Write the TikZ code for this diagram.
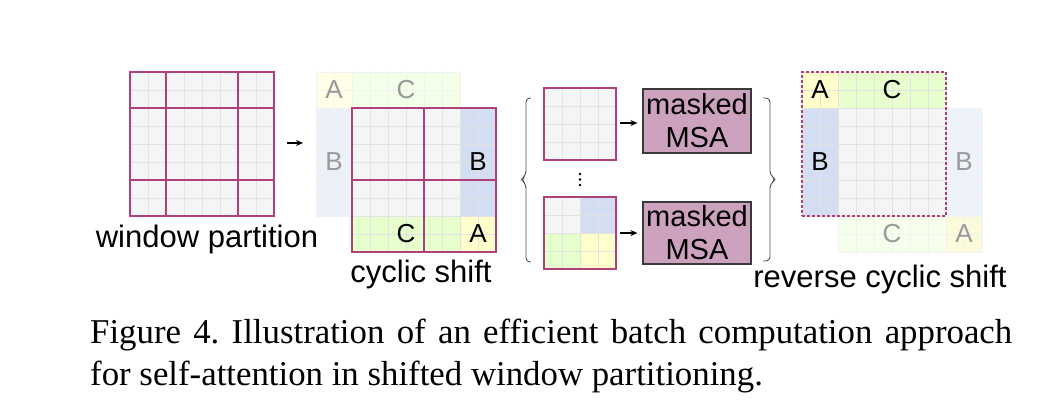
\documentclass[tikz,border=0pt]{standalone}
\usepackage{fontspec}
\setmainfont{Liberation Serif}
\setsansfont{Liberation Sans}
\usetikzlibrary{arrows.meta}
\definecolor{cgray}{HTML}{F5F5F5}
\definecolor{cline}{HTML}{E2E2E2}
\definecolor{cpink}{HTML}{B0407A}
\definecolor{cblue}{HTML}{D4DEF2}
\definecolor{cgreen}{HTML}{E6FFCC}
\definecolor{cyellow}{HTML}{FFFFCC}
\definecolor{cmsa}{HTML}{CDA2BE}
\definecolor{cedge}{HTML}{3A3A3A}
\frenchspacing
% x y w h fill gridcolor
\newcommand\mycells[6]{%
  \fill[#5] (#1,#2) rectangle ++(#3*18,#4*18);
  \foreach \i in {0,...,#3} \draw[#6, line width=0.9pt] (#1+\i*18,#2) -- ++(0,#4*18);
  \foreach \j in {0,...,#4} \draw[#6, line width=0.9pt] (#1,#2+\j*18) -- ++(#3*18,0);
}
\tikzset{
  winbox/.style={draw=cpink, line width=1.1pt, inner sep=0pt, fill=none},
  winln/.style={draw=cpink, line width=1.1pt},
  lbl/.style={font=\sffamily\fontsize{31}{37}\selectfont, anchor=base, inner sep=0pt},
  ltr/.style={font=\sffamily\fontsize{26}{30}\selectfont, inner sep=0pt},
  fltr/.style={ltr, text=black!40},
  msa/.style={draw=cedge, fill=cmsa, line width=1.2pt, minimum width=108pt, inner sep=0pt,
    align=center, font=\sffamily\fontsize{29}{33}\selectfont},
  arr/.style={line width=1.1pt, -{Stealth[length=7pt,width=6pt]}},
  brc/.style={draw=black!70, line width=0.9pt, rounded corners=4pt},
  captxt/.style={font=\fontsize{34.8}{42}\selectfont, anchor=base west, inner sep=0pt},
}
\begin{document}
\begin{tikzpicture}[x=1pt, y=-1pt]
\useasboundingbox (0,0) rectangle (1038,419);
\fill[white] (0,0) rectangle (1038,419);

% ---------- window partition ----------
\mycells{130}{72}{8}{8}{cgray}{cline}
\draw[winln] (166,72) -- (166,216);
\draw[winln] (238,72) -- (238,216);
\draw[winln] (130,108) -- (274,108);
\draw[winln] (130,180) -- (274,180);
\node[winbox, minimum width=144pt, minimum height=144pt] (wp) at (202,144) {};
\node[lbl] (wpl) at (207,248) {window partition};

\coordinate (a1s) at (287,143);
\coordinate (a1e) at (303,143);
\draw[arr] (a1s) -- (a1e);

% ---------- cyclic shift ----------
\mycells{316}{72}{2}{2}{cyellow!45!white}{cline!45!white}
\mycells{352}{72}{6}{2}{cgreen!45!white}{cline!45!white}
\mycells{316}{108}{2}{6}{cblue!45!white}{cline!45!white}
\node[fltr] (fa1) at (334,90) {A};
\node[fltr] (fc1) at (406,90) {C};
\node[fltr] (fb1) at (334,162) {B};

\mycells{352}{108}{8}{8}{cgray}{cline}
\mycells{460}{108}{2}{6}{cblue}{cline}
\mycells{352}{216}{6}{2}{cgreen}{cline}
\mycells{460}{216}{2}{2}{cyellow}{cline}
\draw[winln] (424,108) -- (424,252);
\draw[winln] (352,180) -- (496,180);
\node[winbox, minimum width=144pt, minimum height=144pt] (cs) at (424,180) {};
\node[ltr] (b1) at (478,162) {B};
\node[ltr] (c1) at (406,234) {C};
\node[ltr] (a1) at (478,234) {A};
\node[lbl] (csl) at (421,283) {cyclic shift};

% ---------- braces ----------
\draw[brc] (531,98) -- (526,98) -- (526,175) -- (521,179.5) -- (526,184) -- (526,262) -- (531,262);
\draw[brc] (763,98) -- (770,98) -- (770,175) -- (776,179.5) -- (770,184) -- (770,261) -- (763,261);

% ---------- windows ----------
\mycells{544}{88}{4}{4}{cgray}{cline}
\node[winbox, minimum width=72pt, minimum height=72pt] (g1) at (580,124) {};

\mycells{544}{197}{2}{2}{cgray}{cline}
\mycells{580}{197}{2}{2}{cblue}{cline}
\mycells{544}{233}{2}{2}{cgreen}{cline}
\mycells{580}{233}{2}{2}{cyellow}{cline}
\node[winbox, minimum width=72pt, minimum height=72pt] (g2) at (580,233) {};

\fill (580,174) circle (1.3pt);
\fill (580,179.5) circle (1.3pt);
\fill (580,185) circle (1.3pt);

\node[msa, minimum height=64pt] (m1) at (697,121) {masked\\MSA};
\node[msa, minimum height=62pt] (m2) at (697,233) {masked\\MSA};
\draw[arr] ([xshift=3pt,yshift=1pt]g1.east) -- ([xshift=-5pt,yshift=1pt]g1.east -| m1.west);
\draw[arr] ([xshift=3pt]g2.east) -- ([xshift=-5pt]g2.east -| m2.west);

% ---------- reverse cyclic shift ----------
\mycells{946}{108}{2}{6}{cblue!40!white}{cline!45!white}
\mycells{838}{216}{6}{2}{cgreen!40!white}{cline!45!white}
\mycells{946}{216}{2}{2}{cyellow!60!cgray}{cline!45!white}
\node[fltr] (fb2) at (964,162) {B};
\node[fltr] (fc2) at (892,234) {C};
\node[fltr] (fa2) at (964,234) {A};

\mycells{802}{72}{8}{8}{cgray}{cline}
\mycells{802}{72}{2}{2}{cyellow}{cline}
\mycells{838}{72}{6}{2}{cgreen}{cline}
\mycells{802}{108}{2}{6}{cblue}{cline}
\node[winbox, dash pattern=on 3pt off 2pt, minimum width=144pt, minimum height=144pt] (rc) at (874,144) {};
\node[ltr] (a2) at (820,90) {A};
\node[ltr] (c2) at (892,90) {C};
\node[ltr] (b2) at (820,162) {B};
\node[lbl] (rcl) at (880,288) {reverse cyclic shift};

% ---------- caption ----------
\node[captxt] (cap1) at (90,343) {\makebox[922pt][s]{Figure 4. Illustration of an efficient batch computation approach}};
\node[captxt] (cap2) at (90,385) {for self-attention in shifted window partitioning.};
\end{tikzpicture}
\end{document}
